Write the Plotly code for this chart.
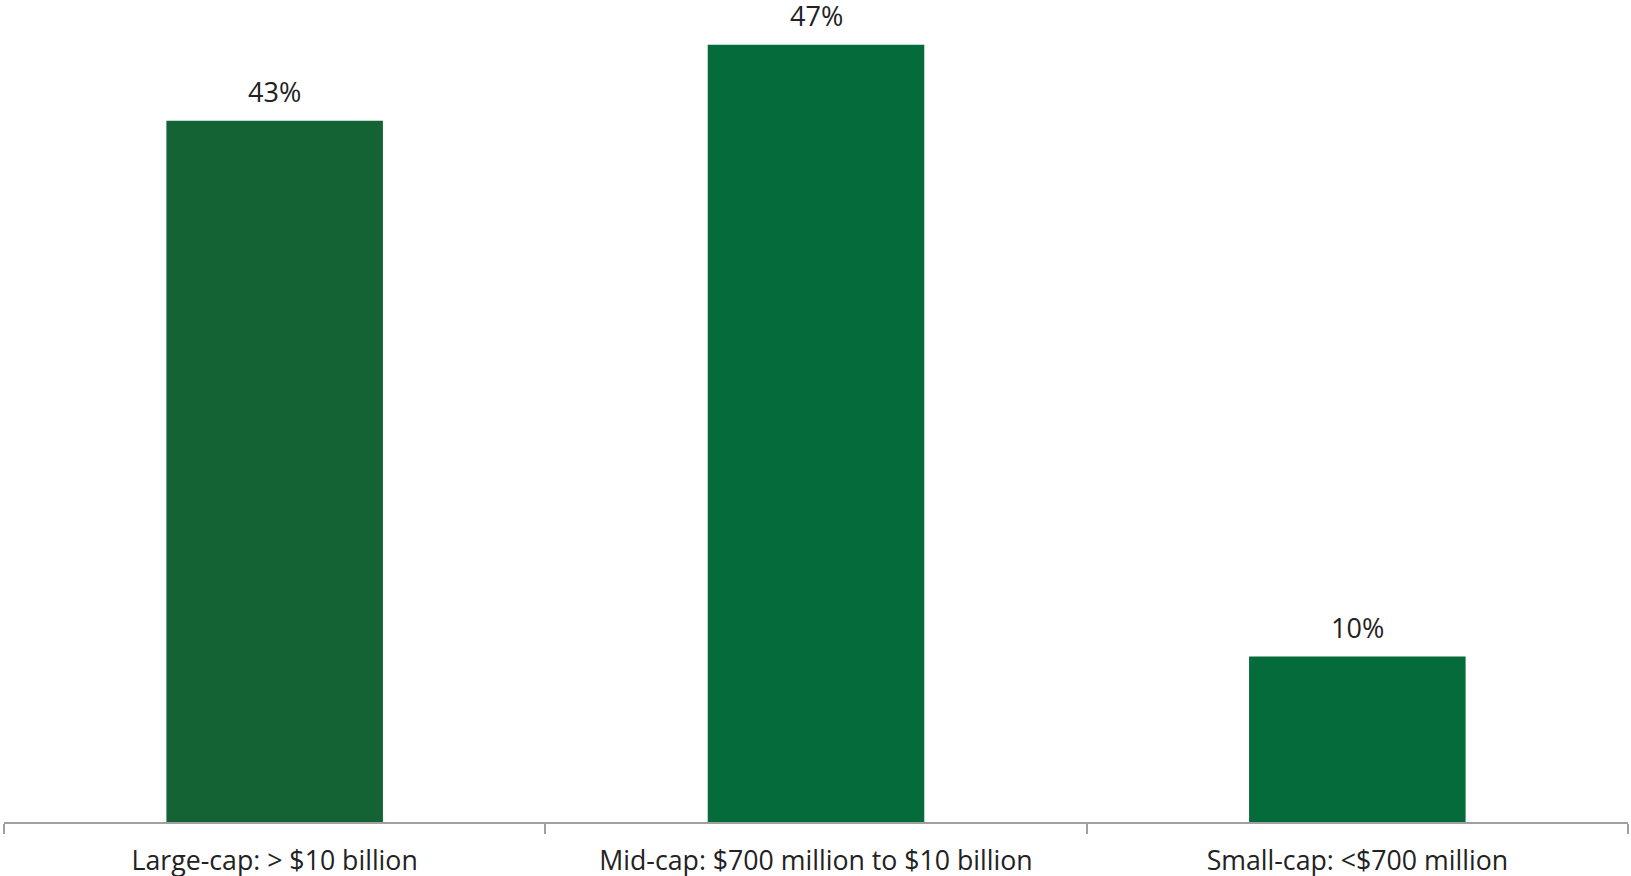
import plotly.graph_objects as go

categories = ["Large-cap: > $10 billion", "Mid-cap: $700 million to $10 billion", "Small-cap: <$700 million"]
values = [42.4, 47.0, 10.0]
value_labels = ["43%", "47%", "10%"]
bar_colors = ["#136334", "#066B3A", "#066B3A"]

fig = go.Figure()
fig.add_trace(go.Bar(
    x=categories,
    y=values,
    marker=dict(color=bar_colors, line=dict(width=0)),
    hoverinfo="skip",
))

for c, v, t in zip(categories, values, value_labels):
    fig.add_annotation(
        x=c, y=v, text=t, showarrow=False,
        yanchor="bottom", yshift=9,
        font=dict(family="Open Sans", size=27, color="#222222"),
    )

fig.update_layout(
    width=1631, height=876,
    margin=dict(l=4, r=3, t=0, b=54),
    paper_bgcolor="white", plot_bgcolor="white",
    bargap=0.6,
    showlegend=False,
    font=dict(family="Open Sans", size=27, color="#222222"),
)
fig.update_xaxes(
    automargin=False,
    showline=True, linecolor="#A0A0A0", linewidth=1.5,
    ticks="outside", tickson="boundaries", ticklen=10, tickcolor="#A0A0A0", tickwidth=1.5,
    ticklabelstandoff=14,
    showgrid=False,
    tickfont=dict(family="Open Sans", size=26.7, color="#222222"),
)
fig.update_yaxes(
    automargin=False,
    range=[0, 49.7], visible=False, showgrid=False, zeroline=False,
)

fig.write_html(
    "out.html",
    config={"displayModeBar": False},
    post_script="document.body.style.margin='0';document.body.style.overflow='hidden';",
)
